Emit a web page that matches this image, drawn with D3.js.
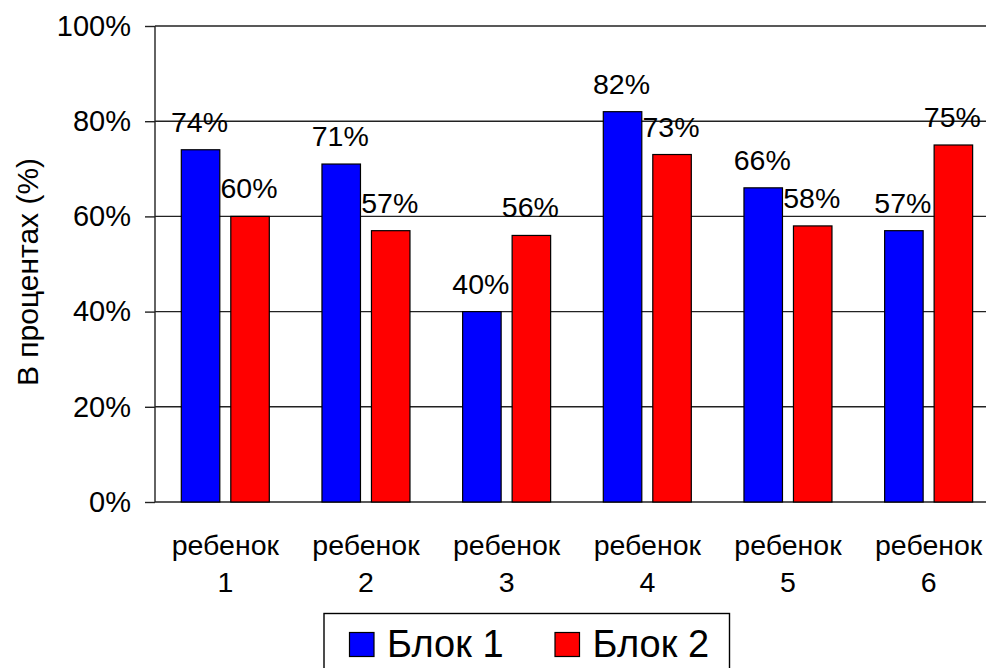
<!DOCTYPE html>
<html>
<head>
<meta charset="utf-8">
<script src="https://cdn.jsdelivr.net/npm/d3@7"></script>
<style>
  html, body { margin: 0; padding: 0; background: #fff; overflow: hidden; }
  svg { display: block; font-family: "Liberation Sans", Arial, sans-serif; }
</style>
</head>
<body>
<svg id="chart" width="986" height="668"></svg>
<script>
const categories = ["ребенок 1", "ребенок 2", "ребенок 3", "ребенок 4", "ребенок 5", "ребенок 6"];
const seriesNames = ["Блок 1", "Блок 2"];
const block1 = [74, 71, 40, 82, 66, 57];
const block2 = [60, 57, 56, 73, 58, 75];
const yTicks = [0, 20, 40, 60, 80, 100];
const colors = ["#0000ff", "#ff0000"];

const svg = d3.select("#chart");
const mLeft = 155, mRight = 999, mTop = 26, mBottom = 502;

const x = d3.scaleBand().domain(categories).range([mLeft, mRight]).padding(0);
const xInner = d3.scaleBand().domain(seriesNames).range([26.3, 114.3]).paddingInner(0.222).paddingOuter(0);
const y = d3.scaleLinear().domain([0, 100]).range([mBottom, mTop]);

// gridlines + ticks
const yAxis = d3.axisLeft(y).tickValues(yTicks).tickSize(10).tickPadding(14).tickFormat(d => d + "%");
const gy = svg.append("g").attr("transform", `translate(${mLeft},0)`).call(yAxis);
gy.select(".domain").remove();
gy.selectAll(".tick line").attr("stroke", "#222").attr("stroke-width", 1.4);
gy.selectAll(".tick text").attr("font-size", 29).attr("fill", "#000")
  .attr("font-family", "'Liberation Sans', Arial, sans-serif");

svg.append("g").selectAll("line").data(yTicks).join("line")
  .attr("x1", mLeft).attr("x2", mRight)
  .attr("y1", d => y(d)).attr("y2", d => y(d))
  .attr("stroke", "#222").attr("stroke-width", 1.4);

// bars
const data = categories.map((c, i) => ({ cat: c, vals: [block1[i], block2[i]] }));
const groups = svg.append("g").selectAll("g").data(data).join("g")
  .attr("transform", d => `translate(${x(d.cat)},0)`);

groups.selectAll("rect").data(d => d.vals.map((v, j) => ({ s: seriesNames[j], v, j }))).join("rect")
  .attr("x", d => xInner(d.s))
  .attr("y", d => y(d.v))
  .attr("width", xInner.bandwidth())
  .attr("height", d => y(0) - y(d.v))
  .attr("fill", d => colors[d.j])
  .attr("stroke", "#000").attr("stroke-width", 1.2);

groups.selectAll("text.lbl").data(d => d.vals.map((v, j) => ({ s: seriesNames[j], v, j }))).join("text")
  .attr("class", "lbl")
  .attr("x", d => xInner(d.s) + xInner.bandwidth() / 2 - 1)
  .attr("y", d => y(d.v) - 18)
  .attr("text-anchor", "middle")
  .attr("font-size", 28.5)
  .attr("fill", "#000")
  .text(d => d.v + "%");

// y axis line
svg.append("line").attr("x1", mLeft).attr("x2", mLeft).attr("y1", mTop).attr("y2", mBottom)
  .attr("stroke", "#222").attr("stroke-width", 1.4);

// category labels
const cl = svg.append("g").selectAll("text").data(categories).join("text")
  .attr("x", d => x(d) + x.bandwidth() / 2)
  .attr("y", 555)
  .attr("text-anchor", "middle")
  .attr("font-size", 28.5)
  .attr("fill", "#000");
cl.append("tspan").attr("x", d => x(d) + x.bandwidth() / 2).attr("dy", 0).text(d => d.split(" ")[0]);
cl.append("tspan").attr("x", d => x(d) + x.bandwidth() / 2).attr("dy", 36.7).text(d => d.split(" ")[1]);

// y title
svg.append("text")
  .attr("transform", `translate(38,${(mTop + mBottom) / 2 + 8}) rotate(-90)`)
  .attr("text-anchor", "middle")
  .attr("font-size", 30)
  .attr("fill", "#000")
  .text("В процентах (%)");

// legend
const lg = svg.append("g");
lg.append("rect").attr("x", 324).attr("y", 613.5).attr("width", 405.5).attr("height", 70)
  .attr("fill", "#fff").attr("stroke", "#000").attr("stroke-width", 1.4);
const legX = [349.5, 555];
seriesNames.forEach((s, i) => {
  lg.append("rect").attr("x", legX[i]).attr("y", 632.5).attr("width", 24.5).attr("height", 24)
    .attr("fill", colors[i]).attr("stroke", "#000").attr("stroke-width", 1.2);
  lg.append("text").attr("x", legX[i] + 37.5).attr("y", 656.7)
    .attr("font-size", 38).attr("fill", "#000").text(s);
});
</script>
</body>
</html>
